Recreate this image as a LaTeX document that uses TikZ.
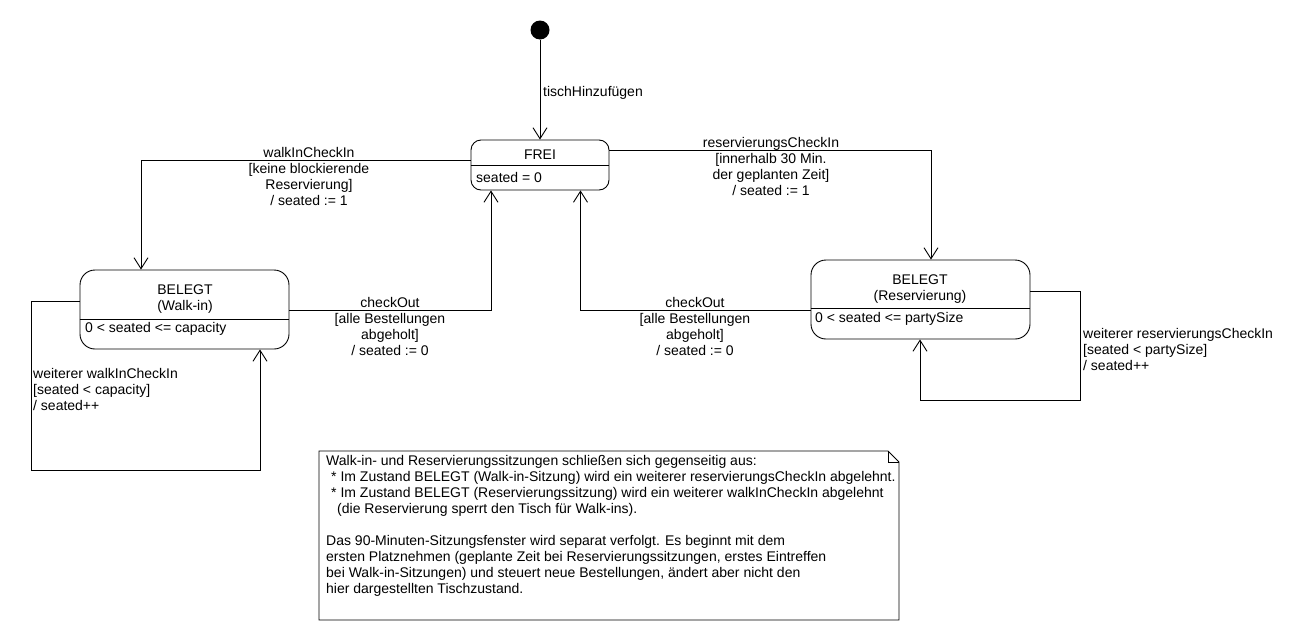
\documentclass[tikz,border=0pt]{standalone}
\usepackage{fontspec}
\setmainfont{Liberation Sans}
\usetikzlibrary{arrows.meta}
\begin{document}
\begin{tikzpicture}[x=1pt,y=-1pt,
  base/.style={font=\fontsize{14}{16}\selectfont},
  statebox/.style={draw, line width=0.9pt, inner sep=0pt},
  lbl/.style={base, inner sep=0pt, align=center},
  lbll/.style={base, inner sep=0pt, align=left},
  tr/.style={line width=0.9pt, -{Straight Barb[length=11pt,width=14pt,line width=0.9pt]}},
  ln/.style={line width=0.9pt}]
\useasboundingbox (0,0) rectangle (1310,640);
\fill[white] (0,0) rectangle (1310,640);

% initial state
\node[circle, fill=black, minimum size=19pt, inner sep=0pt] (init) at (540,30) {};

% states
\node[statebox, rounded corners=10pt, minimum width=138pt, minimum height=50pt] (frei) at (540,165) {};
\draw[ln] (frei.west) -- (frei.east);
\node[lbl] (freit) at (540,155) {FREI};
\node[lbll, anchor=west] (freia) at (476,177) {seated = 0};

\node[statebox, rounded corners=15pt, minimum width=209pt, minimum height=79pt] (walk) at (184.5,309.5) {};
\draw[ln] ([yshift=-9.5pt]walk.west) -- ([yshift=-9.5pt]walk.east);
\node[lbl] (walkt) at (185,299.5) {BELEGT\\(Walk-in)};
\node[lbll, anchor=west] (walka) at (85,329) {0 < seated <= capacity};

\node[statebox, rounded corners=15pt, minimum width=219pt, minimum height=79pt] (res) at (920.5,299.5) {};
\draw[ln] ([yshift=-8.5pt]res.west) -- ([yshift=-8.5pt]res.east);
\node[lbl] (rest) at (920,289.5) {BELEGT\\(Reservierung)};
\node[lbll, anchor=west] (resa) at (815,319) {0 < seated <= partySize};

% transitions
\draw[tr] (init.south) -- (frei.north);
\node[lbll, anchor=west] (l0) at (543,93) {tischHinzufügen};

\draw[tr] ([yshift=5pt]frei.west) -| ([xshift=-43.5pt]walk.north);
\node[lbl] (l1) at (309,176) {walkInCheckIn\\{[}keine blockierende\\Reservierung{]}\\/ seated := 1};

\draw[tr] ([yshift=15pt]frei.east) -| ([xshift=10.5pt]res.north);
\node[lbl] (l2) at (771,166) {reservierungsCheckIn\\{[}innerhalb 30 Min.\\der geplanten Zeit{]}\\/ seated := 1};

\draw[tr] ([yshift=-0.5pt]walk.east) -| ([xshift=-49pt]frei.south);
\node[lbl] (l3) at (390,326) {checkOut\\{[}alle Bestellungen\\abgeholt{]}\\/ seated := 0};

\draw[tr] ([yshift=-10.5pt]res.west) -| ([xshift=40.5pt]frei.south);
\node[lbl] (l4) at (695,326) {checkOut\\{[}alle Bestellungen\\abgeholt{]}\\/ seated := 0};

\coordinate (wl) at (31,470);
\draw[tr] ([yshift=8.5pt]walk.west) -| (wl) -| ([xshift=75.5pt]walk.south);
\node[lbll, anchor=west] (l5) at (33,389) {weiterer walkInCheckIn\\{[}seated < capacity{]}\\/ seated++};

\coordinate (rl) at (1080,400);
\draw[tr] ([yshift=8.5pt]res.east) -| (rl) -| ([xshift=-0.5pt]res.south);
\node[lbll, anchor=west] (l6) at (1083,349) {weiterer reservierungsCheckIn\\{[}seated < partySize{]}\\/ seated++};

% note
\draw[ln, line join=miter] (319,451) -- (888,451) -- (899,462) -- (899,620) -- (319,620) -- cycle;
\draw[ln] (888,451) -- (888,462) -- (899,462);
\node[lbll, anchor=north west] (note) at (326,455) {Walk-in- und Reservierungssitzungen schließen sich gegenseitig aus:\\
\hspace*{5pt}* Im Zustand BELEGT (Walk-in-Sitzung) wird ein weiterer reservierungsCheckIn abgelehnt.\\
\hspace*{5pt}* Im Zustand BELEGT (Reservierungssitzung) wird ein weiterer walkInCheckIn abgelehnt\\
\hspace*{11pt}(die Reservierung sperrt den Tisch für Walk-ins).\\
\mbox{}\\
Das 90-Minuten-Sitzungsfenster wird separat verfolgt. Es beginnt mit dem\\
ersten Platznehmen (geplante Zeit bei Reservierungssitzungen, erstes Eintreffen\\
bei Walk-in-Sitzungen) und steuert neue Bestellungen, ändert aber nicht den\\
hier dargestellten Tischzustand.};
\end{tikzpicture}
\end{document}
